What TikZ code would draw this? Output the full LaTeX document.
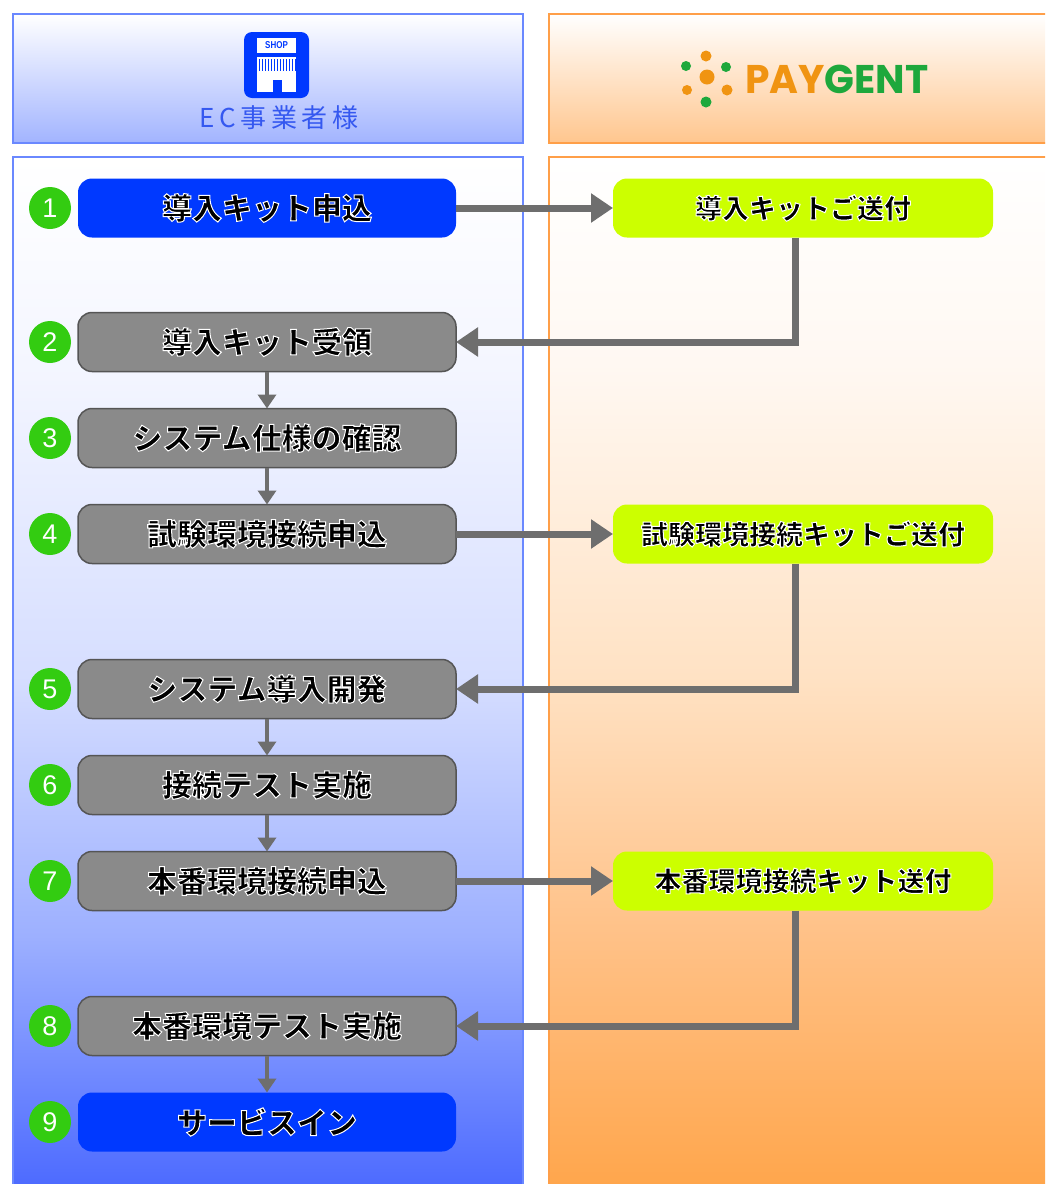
\documentclass[tikz,border=0pt]{standalone}
\usepackage{fontspec}
\usepackage{graphicx}
\usetikzlibrary{positioning,arrows.meta,shapes}
\newfontfamily\jpfont{Noto Sans CJK JP}
\newfontfamily\ecfont[LetterSpace=18]{Noto Sans CJK JP}
\newfontfamily\logofont{Liberation Sans}
\newfontfamily\payfont{Poppins}
% black text with a thin white rim
\newcommand{\halo}[1]{\special{pdf:literal direct 2 Tr 1 1 1 RG 1 w}#1\special{pdf:literal direct 0 Tr}}
\definecolor{shopblue}{HTML}{0039FF}
\definecolor{ecblue}{HTML}{3558F0}
\definecolor{lineblue}{HTML}{6A88FF}
\definecolor{lineorange}{HTML}{FF9F48}
\definecolor{headblue}{HTML}{A2B4FF}
\definecolor{headorange}{HTML}{FFC68E}
\definecolor{boxgray}{HTML}{8A8A8A}
\definecolor{boxedge}{HTML}{555555}
\definecolor{kitlime}{HTML}{CCFF00}
\definecolor{numgreen}{HTML}{33CC11}
\definecolor{arrowgray}{HTML}{6E6E6E}
\definecolor{payorange}{HTML}{F09412}
\definecolor{paygreen}{HTML}{1EA83C}
\definecolor{lb1}{HTML}{F4F6FF}
\definecolor{lb2}{HTML}{D6DEFF}
\definecolor{lb3}{HTML}{9DB0FF}
\definecolor{lb4}{HTML}{4A68FF}
\definecolor{ro1}{HTML}{FFF8F2}
\definecolor{ro2}{HTML}{FFE2C4}
\definecolor{ro3}{HTML}{FFC187}
\definecolor{ro4}{HTML}{FFA54A}
\pgfdeclareverticalshading{leftpanel}{100bp}{color(0bp)=(lb4); color(25bp)=(lb4); color(37.5bp)=(lb3); color(50bp)=(lb2); color(65bp)=(lb1); color(75bp)=(white); color(100bp)=(white)}
\pgfdeclareverticalshading{rightpanel}{100bp}{color(0bp)=(ro4); color(25bp)=(ro4); color(37.5bp)=(ro3); color(50bp)=(ro2); color(65bp)=(ro1); color(75bp)=(white); color(100bp)=(white)}
\tikzset{
        flowbox/.style={align=center, inner sep=0pt, outer sep=0pt, rounded corners=14pt, minimum width=378pt, minimum height=59pt, font=\jpfont\bfseries\fontsize{30}{30}\selectfont},
        % Blue steps (start and end)
        node_blue/.style={flowbox, fill=shopblue},
        % Gray steps
        node_gray/.style={flowbox, fill=boxgray, draw=boxedge, line width=1.5pt},
        % PAYGENT kits
        node_kit/.style={flowbox, fill=kitlime, minimum width=380pt, font=\jpfont\bfseries\fontsize{27}{27}\selectfont},
        % Step numbers
        node_num/.style={circle, fill=numgreen, text=white, minimum size=42pt, inner sep=0pt, outer sep=0pt, font=\logofont\fontsize{27}{27}\selectfont},
        % Arrows between columns
        link_big/.style={draw=arrowgray, line width=7pt, -{Triangle[length=22pt,width=28pt]}},
        % Arrows inside a column
        link_small/.style={draw=arrowgray, line width=4pt, -{Triangle[length=14pt,width=18pt]}}
}
\begin{document}
\begin{tikzpicture}[x=1pt, y=-1pt]
    \useasboundingbox (0,0) rectangle (1045,1184);
    \clip (0,0) rectangle (1045,1184);
    % headers
    \draw[lineblue, line width=1.5pt, top color=white, bottom color=headblue] (13,14) rectangle (523,143);
    \draw[lineorange, line width=1.5pt, top color=white, bottom color=headorange] (549,14) rectangle (1060,143);
    % columns
    \draw[lineblue, line width=1.5pt, shading=leftpanel] (13,157) rectangle (523,1195);
    \draw[lineorange, line width=1.5pt, shading=rightpanel] (549,157) rectangle (1060,1195);
    % shop icon
    \fill[shopblue, rounded corners=8pt] (244,32) rectangle (309,98);
    \fill[white] (257,38) rectangle (296,53);
    \node[text=shopblue, inner sep=0pt, font=\logofont\bfseries\fontsize{10}{10}\selectfont] (shop) at (276.5,45.5) {\scalebox{0.8}[1]{SHOP}};
    \fill[white] (257,57) rectangle (296,92);
    \foreach \x in {259,262,...,295}
        \draw[shopblue, line width=1pt] (\x,59) -- (\x,71);
    \fill[shopblue] (273,80) rectangle (282,92);
    \node[text=ecblue, font=\ecfont\fontsize{26}{26}\selectfont] (ec) at (279,118) {EC事業者様};
    % paygent logo
    \fill[payorange] (706,56) circle (5.5);
    \fill[paygreen] (686,66) circle (5);
    \fill[payorange] (707,77) circle (7.5);
    \fill[paygreen] (726,67) circle (5);
    \fill[payorange] (687,90) circle (5);
    \fill[payorange] (727,90) circle (5.5);
    \fill[paygreen] (706,102) circle (5.5);
    \node[anchor=west, inner sep=0pt, font=\payfont\bfseries\fontsize{40}{40}\selectfont] (pg) at (745,79)
        {\scalebox{0.98}[1]{\textcolor{payorange}{PAY}\textcolor{paygreen}{GENT}}};
    % steps
    \node[node_blue] (s1) at (267,208) {\halo{導入キット申込}};
    \node[node_gray, below=75pt of s1] (s2) {\halo{導入キット受領}};
    \node[node_gray, below=37pt of s2] (s3) {\halo{システム仕様の確認}};
    \node[node_gray, below=37pt of s3] (s4) {\halo{試験環境接続申込}};
    \node[node_gray, below=96pt of s4] (s5) {\halo{システム導入開発}};
    \node[node_gray, below=37pt of s5] (s6) {\halo{接続テスト実施}};
    \node[node_gray, below=37pt of s6] (s7) {\halo{本番環境接続申込}};
    \node[node_gray, below=86pt of s7] (s8) {\halo{本番環境テスト実施}};
    \node[node_blue, below=37pt of s8] (s9) {\halo{サービスイン}};
    \foreach \i in {1,...,9}
        \node[node_num, left=7pt of s\i] (n\i) {\i};
    % kits
    \node[node_kit, right=157pt of s1] (k1) {\halo{導入キットご送付}};
    \node[node_kit, right=157pt of s4] (k4) {\halo{試験環境接続キットご送付}};
    \node[node_kit, right=157pt of s7] (k7) {\halo{本番環境接続キット送付}};
    % links
    \draw[link_big] (s1) -- (k1);
    \draw[link_big] (s4) -- (k4);
    \draw[link_big] (s7) -- (k7);
    \draw[link_big] ([xshift=-8pt]k1.south) |- (s2.east);
    \draw[link_big] ([xshift=-8pt]k4.south) |- (s5.east);
    \draw[link_big] ([xshift=-8pt]k7.south) |- (s8.east);
    \draw[link_small] (s2) -- (s3);
    \draw[link_small] (s3) -- (s4);
    \draw[link_small] (s5) -- (s6);
    \draw[link_small] (s6) -- (s7);
    \draw[link_small] (s8) -- (s9);
\end{tikzpicture}
\end{document}
